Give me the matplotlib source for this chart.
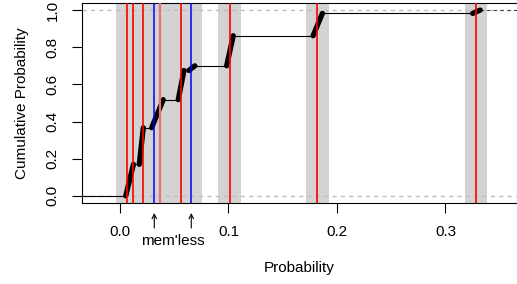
import numpy as np
import matplotlib
matplotlib.use("Agg")
import matplotlib.pyplot as plt

plt.rcParams['font.family'] = ['Liberation Sans', 'DejaVu Sans']

# rising pieces of the cumulative curve (start/end of each thick segment)
rise_x0 = [0.0053, 0.0178, 0.0292, 0.0537, 0.0635, 0.0983, 0.1780, 0.3250]
rise_x1 = [0.0124, 0.0215, 0.0399, 0.0590, 0.0690, 0.1044, 0.1865, 0.3320]
rise_y0 = [0.000, 0.170, 0.367, 0.518, 0.675, 0.700, 0.862, 0.982]
rise_y1 = [0.170, 0.367, 0.518, 0.675, 0.700, 0.862, 0.982, 1.000]

red_lines = [0.0067, 0.0117, 0.0210, 0.0565, 0.1010, 0.1820, 0.3280]
pink_lines = [0.0369]
blue_lines = [0.0316, 0.0657]

x_ticks = [0.0, 0.1, 0.2, 0.3]
y_ticks = [0.0, 0.2, 0.4, 0.6, 0.8, 1.0]

band_half = 0.0103
xlim = (-0.035, 0.3659)
ylim = (-0.038, 1.038)

fig = plt.figure(figsize=(5.17, 2.84), dpi=100)
ax = fig.add_axes([82 / 517, 81 / 284, 435 / 517, 200 / 284])
ax.set_xlim(*xlim)
ax.set_ylim(*ylim)

# grey bands around every marked value
for v in red_lines + pink_lines + blue_lines:
    ax.axvspan(v - band_half, v + band_half, color='#d3d3d3', lw=0, zorder=0)

ax.axhline(0, color='#bebebe', lw=1, ls=(0, (3, 3)), zorder=1)
ax.axhline(1, color='#bebebe', lw=1, ls=(0, (3, 3)), zorder=1)

# thin flat parts of the step curve
ax.plot([xlim[0], rise_x0[0]], [rise_y0[0], rise_y0[0]], color='k', lw=0.8, zorder=2)
for i in range(len(rise_x0) - 1):
    ax.plot([rise_x1[i], rise_x0[i + 1]], [rise_y1[i], rise_y1[i]], color='k', lw=0.8, zorder=2)
ax.plot([rise_x1[-1], xlim[1]], [rise_y1[-1], rise_y1[-1]], color='#444444', lw=0.8,
        ls=(0, (3, 3)), zorder=2)

# thick rising parts
for x0, x1, y0, y1 in zip(rise_x0, rise_x1, rise_y0, rise_y1):
    ax.plot([x0, x1], [y0, y1], color='k', lw=3.8, solid_capstyle='round', zorder=3)

for v in red_lines:
    ax.axvline(v, color='#ff0000', lw=1.2, zorder=4)
for v in pink_lines:
    ax.axvline(v, color='#f07070', lw=1.6, zorder=4)
for v in blue_lines:
    ax.axvline(v, color='#0000ff', lw=1.1, zorder=4)

# arrows under the memoryless values
for v in blue_lines:
    ax.annotate('', xy=(v, -0.05), xytext=(v, -0.125),
                xycoords=('data', 'axes fraction'),
                arrowprops=dict(arrowstyle='->', lw=0.8, color='k',
                                shrinkA=0, shrinkB=0, mutation_scale=8))
ax.text(np.mean(blue_lines), -0.19, "mem'less", transform=ax.get_xaxis_transform(),
        ha='center', va='center', fontsize=11)

ax.spines['right'].set_visible(False)
for s in ['left', 'bottom', 'top']:
    ax.spines[s].set_linewidth(0.8)

ax.set_xticks(x_ticks)
ax.set_xticklabels([f"{t:.1f}" for t in x_ticks])
ax.set_yticks(y_ticks)
ax.set_yticklabels([f"{t:.1f}" for t in y_ticks], rotation=90, va='center')
ax.tick_params(length=7, width=0.8, labelsize=11, pad=9)

ax.set_xlabel("Probability", fontsize=11, labelpad=16)
ax.set_ylabel("Cumulative Probability", fontsize=11, labelpad=12)

fig.savefig("out.png", dpi=100)
